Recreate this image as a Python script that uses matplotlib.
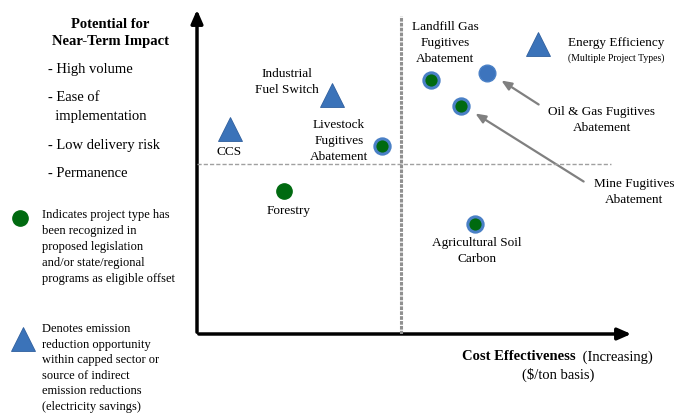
import matplotlib
matplotlib.use('Agg')
import matplotlib.pyplot as plt

plt.rcParams['font.family'] = ['Liberation Serif', 'DejaVu Serif']

# project types, scored 0-10 on cost effectiveness (x) and near-term potential (y)
names    = ['CCS', 'Industrial Fuel Switch', 'Energy Efficiency',
            'Livestock', 'Forestry', 'Landfill Gas', 'Oil & Gas', 'Mine', 'Ag Soil']
cost_eff = [0.76, 3.12, 7.88, 4.27, 2.01, 5.40, 6.70, 6.10, 6.42]
potential = [6.31, 7.35, 8.92, 5.78, 4.40, 7.82, 8.03, 7.02, 3.38]
kind     = ['tri', 'tri', 'tri', 'both', 'green', 'both', 'blue', 'both', 'both']
x_split = 4.71
y_split = 5.23

W, H = 675, 414
fig = plt.figure(figsize=(W/100, H/100), dpi=100)

# overlay in pixel units for the free text
ov = fig.add_axes([0, 0, 1, 1])
ov.set_xlim(0, W); ov.set_ylim(H, 0); ov.axis('off')

# main quadrant axes
x0, y0, x1, y1 = 197, 335, 630, 10
ax = fig.add_axes([x0/W, (H-y0)/H, (x1-x0)/W, (y0-y1)/H])
ax.set_xlim(0, 10); ax.set_ylim(0, 10); ax.axis('off')
ax.patch.set_alpha(0)

blue = '#3b73b9'
green = '#006a10'

ax.plot([x_split, x_split], [0, 9.8], color='#909090', lw=2.2, ls=(0, (1.2, 0.4)))
ax.plot([0, 9.55], [y_split, y_split], color='#a0a0a0', lw=1.0, ls=(0, (3, 1.5)))

for x, y, k in zip(cost_eff, potential, kind):
    if k == 'tri':
        ax.plot(x, y, marker='^', ms=17, color=blue, mec='#2f5f9e', mew=0.6, zorder=5)
    elif k == 'both':
        ax.plot(x, y, marker='o', ms=11, color=green, mec='#4a80c6', mew=2.2, zorder=5)
    elif k == 'green':
        ax.plot(x, y, marker='o', ms=11, color=green, mec=green, zorder=5)
    else:
        ax.plot(x, y, marker='o', ms=12, color='#3d74bd', mec='#4a80c6', zorder=5)

# axis arrows
ov.annotate('', xy=(x0, 8), xytext=(x0, y0+1),
            arrowprops=dict(arrowstyle='-|>,head_length=0.8,head_width=0.35', color='black', lw=2.5))
ov.annotate('', xy=(634, y0), xytext=(x0-1, y0),
            arrowprops=dict(arrowstyle='-|>,head_length=0.8,head_width=0.35', color='black', lw=2.5))

fs = 9.5
lab = dict(ha='center', va='center', fontsize=fs, linespacing=1.4)
ov.text(287, 82, 'Industrial\nFuel Switch', **lab)
ov.text(229, 152, 'CCS', **lab)
ov.text(339, 141, 'Livestock\nFugitives\nAbatement', **lab)
ov.text(289, 211, 'Forestry', **lab)
ov.text(445, 43, 'Landfill Gas\nFugitives\nAbatement', **lab)
ov.text(616, 43, 'Energy Efficiency', **lab)
ov.text(616, 58, '(Multiple Project Types)', ha='center', va='center', fontsize=7)
ov.text(602, 120, 'Oil & Gas Fugitives\nAbatement', **lab)
ov.text(634, 192, 'Mine Fugitives\nAbatement', **lab)
ov.text(477, 251, 'Agricultural Soil\nCarbon', **lab)

arr = dict(arrowstyle='-|>,head_length=0.6,head_width=0.25', color='#808080', lw=1.6)
ov.annotate('', xy=(499, 80), xytext=(541, 107), arrowprops=arr)
ov.annotate('', xy=(473, 113), xytext=(586, 184), arrowprops=arr)

ov.text(462, 357, 'Cost Effectiveness', ha='left', va='center', fontsize=10.5, fontweight='bold')
ov.text(579, 357, ' (Increasing)', ha='left', va='center', fontsize=10.5)
ov.text(558, 375, '($/ton basis)', ha='center', va='center', fontsize=10.5)

# left side text
ov.text(110, 33, 'Potential for\nNear-Term Impact', ha='center', va='center',
        fontsize=10.5, fontweight='bold', linespacing=1.45)
items = ['- High volume', '- Ease of', '  implementation', '- Low delivery risk', '- Permanence']
ys = [70, 98, 117, 146, 174]
for t, y in zip(items, ys):
    ov.text(48, y, t, ha='left', va='center', fontsize=10.5)

ov.plot(20, 219, marker='o', ms=11, color=green, mec=green)
ov.text(42, 209, 'Indicates project type has\nbeen recognized in\nproposed legislation\n'
        'and/or state/regional\nprograms as eligible offset',
        ha='left', va='top', fontsize=9, linespacing=1.45)
ov.plot(23, 340, marker='^', ms=17, color=blue, mec='#2f5f9e', mew=0.6)
ov.text(42, 323, 'Denotes emission\nreduction opportunity\nwithin capped sector or\n'
        'source of indirect\nemission reductions\n(electricity savings)',
        ha='left', va='top', fontsize=9, linespacing=1.4)

fig.savefig('out.png', dpi=100)
